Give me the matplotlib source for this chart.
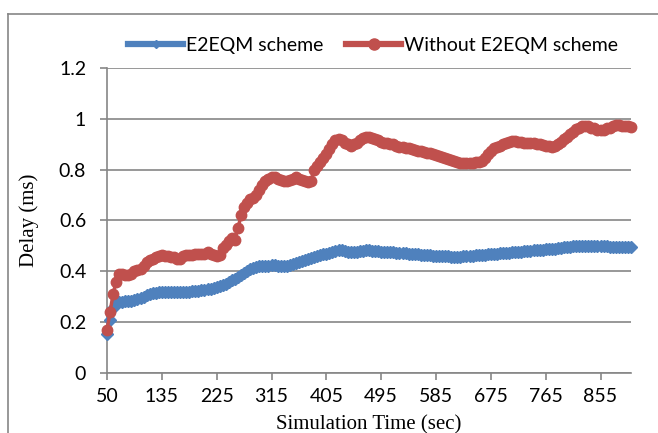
import numpy as np
import matplotlib
matplotlib.use('Agg')
from matplotlib import pyplot as plt
from matplotlib.lines import Line2D

# category labels shown on the x axis (every 18th sample)
tick_labels = ['50', '135', '225', '315', '405', '495', '585', '675', '765', '855']
tick_step = 18

# delay (ms) per sample
e2eqm = [
    0.155, 0.21, 0.255, 0.275, 0.28, 0.28, 0.282, 0.282, 0.285, 0.288,
    0.292, 0.296, 0.30, 0.305, 0.31, 0.313, 0.316, 0.318, 0.32, 0.32,
    0.32, 0.32, 0.32, 0.32, 0.32, 0.32, 0.32, 0.32, 0.322, 0.322,
    0.324, 0.325, 0.327, 0.33, 0.332, 0.335, 0.338, 0.342, 0.347, 0.352,
    0.358, 0.364, 0.37, 0.378, 0.386, 0.395, 0.403, 0.41, 0.415, 0.418,
    0.42, 0.42, 0.42, 0.422, 0.424, 0.424, 0.422, 0.42, 0.42, 0.422,
    0.425, 0.428, 0.432, 0.436, 0.44, 0.445, 0.449, 0.452, 0.455, 0.459,
    0.463, 0.467, 0.47, 0.474, 0.478, 0.481, 0.483, 0.482, 0.48, 0.478,
    0.477, 0.477, 0.478, 0.48, 0.481, 0.482, 0.482, 0.481, 0.48, 0.479,
    0.478, 0.478, 0.477, 0.476, 0.475, 0.474, 0.473, 0.472, 0.471, 0.47,
    0.469, 0.468, 0.467, 0.466, 0.465, 0.464, 0.463, 0.462, 0.461, 0.46,
    0.46, 0.459, 0.459, 0.458, 0.458, 0.458, 0.458, 0.459, 0.46, 0.461,
    0.462, 0.463, 0.464, 0.465, 0.466, 0.467, 0.468, 0.469, 0.47, 0.471,
    0.472, 0.473, 0.474, 0.475, 0.476, 0.477, 0.478, 0.479, 0.48, 0.481,
    0.482, 0.483, 0.484, 0.485, 0.486, 0.487, 0.488, 0.489, 0.49, 0.492,
    0.494, 0.496, 0.497, 0.498, 0.499, 0.5, 0.5, 0.5, 0.5, 0.5,
    0.499, 0.499, 0.498, 0.498, 0.498, 0.497, 0.497, 0.497, 0.497, 0.496,
    0.496, 0.496, 0.495,
]
without = [
    0.17, 0.24, 0.31, 0.36, 0.39, 0.39, 0.385, 0.385, 0.39, 0.40,
    0.405, 0.41, 0.42, 0.435, 0.445, 0.45, 0.455, 0.46, 0.465, 0.46,
    0.46, 0.455, 0.455, 0.45, 0.45, 0.46, 0.465, 0.465, 0.465, 0.47,
    0.47, 0.47, 0.47, 0.475, 0.47, 0.465, 0.46, 0.465, 0.49, 0.505,
    0.52, 0.53, 0.525, 0.57, 0.62, 0.655, 0.67, 0.685, 0.69, 0.70,
    0.72, 0.74, 0.755, 0.765, 0.77, 0.77, 0.765, 0.76, 0.755, 0.755,
    0.76, 0.765, 0.77, 0.765, 0.76, 0.755, 0.75, 0.755, 0.80, 0.815,
    0.83, 0.845, 0.86, 0.88, 0.90, 0.915, 0.92, 0.915, 0.905, 0.90,
    0.895, 0.90, 0.905, 0.915, 0.925, 0.93, 0.93, 0.925, 0.92, 0.915,
    0.91, 0.905, 0.905, 0.90, 0.90, 0.895, 0.89, 0.89, 0.885, 0.885,
    0.88, 0.878, 0.875, 0.872, 0.87, 0.867, 0.865, 0.86, 0.857, 0.853,
    0.85, 0.847, 0.843, 0.84, 0.835, 0.83, 0.828, 0.825, 0.825, 0.825,
    0.828, 0.83, 0.83, 0.835, 0.845, 0.86, 0.875, 0.885, 0.89, 0.895,
    0.90, 0.905, 0.91, 0.912, 0.912, 0.91, 0.908, 0.905, 0.903, 0.905,
    0.903, 0.90, 0.90, 0.898, 0.895, 0.892, 0.89, 0.892, 0.90, 0.91,
    0.92, 0.93, 0.94, 0.95, 0.96, 0.965, 0.97, 0.972, 0.97, 0.965,
    0.962, 0.958, 0.955, 0.958, 0.962, 0.965, 0.97, 0.975, 0.975, 0.97,
    0.972, 0.97, 0.968,
]

blue = '#4F81BD'
red = '#C0504D'
grid = '#868686'
sans = ['Lato', 'DejaVu Sans']
serif = ['Liberation Serif', 'DejaVu Serif']

fig = plt.figure(figsize=(6.58, 4.33), dpi=100)
ax = fig.add_axes([107 / 658, 60 / 433, 524 / 658, 305 / 433])

x = np.arange(len(e2eqm))
ax.plot(x, e2eqm, color=blue, lw=2.5, marker='D', ms=6.3, mec=blue, mfc=blue,
        clip_on=False, zorder=3)
ax.plot(x, without, color=red, lw=2.5, marker='o', ms=7.5, mec=red, mfc=red,
        clip_on=False, zorder=4)

ax.set_xlim(0, len(e2eqm) - 1)
ax.set_ylim(0, 1.2)
ax.set_yticks(np.arange(0, 1.21, 0.2))
ax.set_yticklabels(['0', '0.2', '0.4', '0.6', '0.8', '1', '1.2'])
ax.set_xticks(np.arange(len(tick_labels)) * tick_step)
ax.set_xticklabels(tick_labels)

ax.grid(axis='y', color=grid, lw=1.2)
ax.set_axisbelow(True)
for side in ('top', 'right'):
    ax.spines[side].set_visible(False)
for side in ('left', 'bottom'):
    ax.spines[side].set_color(grid)
    ax.spines[side].set_linewidth(1.2)
ax.tick_params(colors=grid, length=5, width=1.2, labelcolor='black',
               labelsize=14)
ax.tick_params(axis='y', pad=10)
ax.tick_params(axis='x', pad=6)
for lab in ax.get_xticklabels() + ax.get_yticklabels():
    lab.set_family(sans)

ax.set_xlabel('Simulation Time (sec)', family=serif, fontsize=15, labelpad=7)
ax.set_ylabel('Delay (ms)', family=serif, fontsize=15, labelpad=14)

handles = [
    Line2D([], [], color=blue, lw=4.5, marker='D', ms=4),
    Line2D([], [], color=red, lw=4.5, marker='o', ms=8),
]
fig.legend(handles, ['E2EQM scheme', 'Without E2EQM scheme'], loc='center',
           bbox_to_anchor=(373 / 658, 1 - 45 / 433), ncol=2, frameon=False,
           handlelength=2.8, handletextpad=0.15, columnspacing=1.2,
           prop={'family': sans, 'size': 14})

# outer chart frame (cropped on the right and bottom)
fig.add_artist(Line2D([8 / 658, 8 / 658], [0, 1 - 14 / 433], color=grid,
                      lw=1.2, transform=fig.transFigure))
fig.add_artist(Line2D([8 / 658, 1], [1 - 14 / 433, 1 - 14 / 433], color=grid,
                      lw=1.2, transform=fig.transFigure))

fig.savefig('out.png', dpi=100)
